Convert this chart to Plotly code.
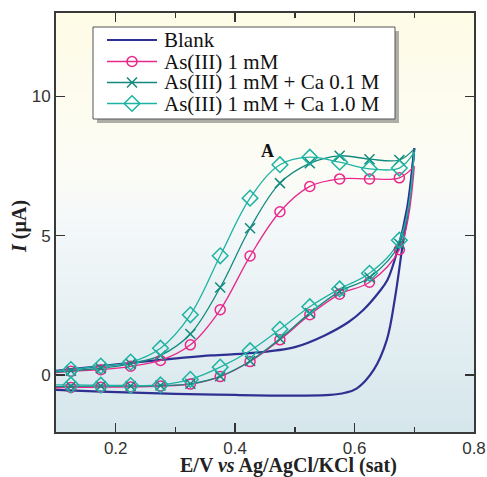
import plotly.graph_objects as go

# ---------------- data ----------------
E_branch = [0.1, 0.125, 0.175, 0.225, 0.275, 0.325, 0.375, 0.425, 0.475,
            0.525, 0.575, 0.625, 0.675, 0.7]

# As(III) 1 mM
as1_up = [0.08, 0.13, 0.19, 0.31, 0.52, 1.08, 2.34, 4.27, 5.86, 6.77, 7.04, 7.04, 7.08, 7.5]
as1_lo = [-0.46, -0.45, -0.44, -0.43, -0.40, -0.33, -0.06, 0.48, 1.26, 2.16, 2.90, 3.33, 4.50, 7.5]

# As(III) 1 mM + Ca 0.1 M
ca01_up = [0.10, 0.15, 0.24, 0.40, 0.70, 1.47, 3.14, 5.27, 6.89, 7.60, 7.87, 7.75, 7.72, 8.12]
ca01_lo = [-0.42, -0.41, -0.40, -0.40, -0.38, -0.32, -0.05, 0.50, 1.30, 2.22, 3.00, 3.50, 4.70, 8.12]

# As(III) 1 mM + Ca 1.0 M
ca10_up = [0.14, 0.19, 0.32, 0.46, 0.96, 2.16, 4.28, 6.35, 7.55, 7.82, 7.64, 7.40, 7.43, 8.0]
ca10_lo = [-0.36, -0.36, -0.37, -0.38, -0.36, -0.16, 0.28, 0.87, 1.64, 2.45, 3.09, 3.65, 4.84, 8.0]

# Blank
blank_up_E = [0.1, 0.175, 0.275, 0.36, 0.425, 0.5, 0.55, 0.59, 0.615, 0.64, 0.655, 0.672, 0.688, 0.7]
blank_up_I = [0.15, 0.32, 0.54, 0.70, 0.78, 1.00, 1.42, 1.90, 2.34, 2.95, 3.41, 4.49, 6.0, 8.15]
blank_lo_E = [0.1, 0.175, 0.3, 0.4, 0.5, 0.559, 0.584, 0.604, 0.632, 0.654, 0.668, 0.679, 0.69, 0.7]
blank_lo_I = [-0.54, -0.60, -0.68, -0.72, -0.74, -0.72, -0.64, -0.48, 0.18, 1.26, 2.81, 4.45, 6.0, 8.15]

names = ["Blank", "As(III) 1 mM", "As(III) 1 mM + Ca 0.1 M", "As(III) 1 mM + Ca 1.0 M"]
x_ticks = [0.2, 0.4, 0.6, 0.8]
x_minor = [0.3, 0.5, 0.7]
y_ticks = [0, 5, 10]

# ---------------- styles ----------------
C_BLANK = "#2E3192"
C_AS1 = "#E8288A"
C_CA01 = "#12897D"
C_CA10 = "#1DB3A2"

# page geometry (body margin removed by post_script)
PL, PR, PT, PB = 56, 474, 13, 432          # plot area in page pixels
W, H = 487, 477
PW, PH = PR - PL, PB - PT

def px(x):  # page x -> paper
    return (x - PL) / PW

def py(y):  # page y -> paper
    return (PB - y) / PH

fig = go.Figure()

# background gradient (cream top -> light blue bottom)
stops = [(0.0, (213, 230, 236)), (0.5, (244, 248, 249)), (0.62, (252, 252, 246)), (1.0, (254, 251, 230))]
def col_at(t):
    for (t0, c0), (t1, c1) in zip(stops[:-1], stops[1:]):
        if t0 <= t <= t1:
            f = (t - t0) / (t1 - t0)
            return "rgb(%d,%d,%d)" % tuple(round(a + (b - a) * f) for a, b in zip(c0, c1))
    return "rgb(%d,%d,%d)" % stops[-1][1]

N = 80
shapes = []
for i in range(N):
    y0 = i / N
    y1 = (i + 1) / N
    shapes.append(dict(type="rect", xref="paper", yref="paper", x0=0, x1=1, y0=y0, y1=y1 + 0.002,
                       fillcolor=col_at((y0 + y1) / 2), line=dict(width=0), layer="below"))

# hand-built legend box with shadow
LX0, LX1, LY0, LY1 = 93, 395, 27, 119
shapes.append(dict(type="rect", xref="paper", yref="paper",
                   x0=px(LX0 + 4), x1=px(LX1 + 4), y0=py(LY1 + 4), y1=py(LY0 + 4),
                   fillcolor="rgba(110,110,110,0.55)", line=dict(width=0), layer="below"))
shapes.append(dict(type="rect", xref="paper", yref="paper",
                   x0=px(LX0), x1=px(LX1), y0=py(LY1), y1=py(LY0),
                   fillcolor="white", line=dict(color="#555", width=1), layer="below"))
leg_y = [40, 61.5, 82.5, 103.5]
leg_cols = [C_BLANK, C_AS1, C_CA01, C_CA10]
leg_w = [2.2, 1.3, 1.3, 1.3]
for yy, c, w in zip(leg_y, leg_cols, leg_w):
    shapes.append(dict(type="line", xref="paper", yref="paper", x0=px(107), x1=px(157),
                       y0=py(yy), y1=py(yy), line=dict(color=c, width=w), layer="below"))

# Blank curves
fig.add_trace(go.Scatter(x=blank_up_E, y=blank_up_I, mode="lines", line=dict(color=C_BLANK, width=2.2, shape="spline"),
                         hoverinfo="skip"))
fig.add_trace(go.Scatter(x=blank_lo_E, y=blank_lo_I, mode="lines", line=dict(color=C_BLANK, width=2.2, shape="spline"),
                         hoverinfo="skip"))

series = [
    (as1_up, as1_lo, C_AS1, "circle-open", 10),
    (ca01_up, ca01_lo, C_CA01, "x-thin-open", 10),
    (ca10_up, ca10_lo, C_CA10, "diamond-open", 12),
]
for up, lo, c, sym, sz in series:
    for br in (up, lo):
        fig.add_trace(go.Scatter(x=E_branch, y=br, mode="lines",
                                 line=dict(color=c, width=1.3, shape="spline"),
                                 hoverinfo="skip"))
for up, lo, c, sym, sz in series:
    for br in (up, lo):
        fig.add_trace(go.Scatter(x=E_branch[1:-1], y=br[1:-1], mode="markers",
                                 marker=dict(symbol=sym, size=sz, color=c,
                                             line=dict(color=c, width=1.5)),
                                 hoverinfo="skip"))

# legend symbols on an invisible overlay axis spanning the plot area (0..1)
for (up, lo, c, sym, sz), yy in zip(series, leg_y[1:]):
    fig.add_trace(go.Scatter(x=[px(132)], y=[py(yy)], mode="markers", xaxis="x2", yaxis="y2",
                             marker=dict(symbol=sym, size=sz, color=c, line=dict(color=c, width=1.5)),
                             hoverinfo="skip", cliponaxis=False))

annotations = []
for nm, yy in zip(names, leg_y):
    annotations.append(dict(text=nm, xref="paper", yref="paper", x=px(162), y=py(yy),
                            xanchor="left", yanchor="middle", showarrow=False,
                            font=dict(family="Liberation Serif", size=21, color="#111")))
annotations += [
    dict(text="<b>E/V <i>vs</i> Ag/AgCl/KCl (sat)</b>", xref="paper", yref="paper",
         x=px(288), y=py(465), xanchor="center", yanchor="middle", showarrow=False,
         font=dict(family="Liberation Serif", size=20, color="#222")),
    dict(text="<b><i>I</i> (µA)</b>", xref="paper", yref="paper", textangle=-90,
         x=px(20), y=py(227), xanchor="center", yanchor="middle", showarrow=False,
         font=dict(family="Liberation Serif", size=20, color="#222")),
    dict(text="<b>A</b>", xref="x", yref="y", x=0.455, y=8.05, showarrow=False,
         xanchor="center", yanchor="middle",
         font=dict(family="Liberation Serif", size=18, color="#111")),
]

fig.update_layout(
    width=W, height=H,
    margin=dict(l=PL, r=W - PR, t=PT, b=H - PB, autoexpand=False),
    paper_bgcolor="white", plot_bgcolor="rgba(0,0,0,0)",
    shapes=shapes,
    showlegend=False,
    hovermode=False,
    xaxis=dict(range=[0.1, 0.8], tickvals=x_ticks, ticktext=["0.2", "0.4", "0.6", "0.8"],
               ticks="inside", ticklen=9, tickwidth=1.3, tickcolor="#333",
               minor=dict(tickvals=x_minor, ticks="inside", ticklen=5, tickwidth=1.3, tickcolor="#333"),
               showline=True, linecolor="#3a3a3a", linewidth=2, mirror="ticks",
               showgrid=False, zeroline=False, automargin=False,
               tickfont=dict(family="Liberation Sans", size=17, color="#333")),
    yaxis=dict(range=[-2.05, 13.0], tickvals=y_ticks,
               ticks="inside", ticklen=9, tickwidth=1.3, tickcolor="#333",
               showline=True, linecolor="#3a3a3a", linewidth=2, mirror="ticks",
               showgrid=False, zeroline=False, automargin=False,
               tickfont=dict(family="Liberation Sans", size=17, color="#333")),
    xaxis2=dict(overlaying="x", range=[0, 1], visible=False, anchor="y2"),
    yaxis2=dict(overlaying="y", range=[0, 1], visible=False, anchor="x2"),
    annotations=annotations,
)

fig.write_html("out.html", config={"displayModeBar": False, "staticPlot": True},
               post_script="document.body.style.margin='0';document.body.style.overflow='hidden';")
